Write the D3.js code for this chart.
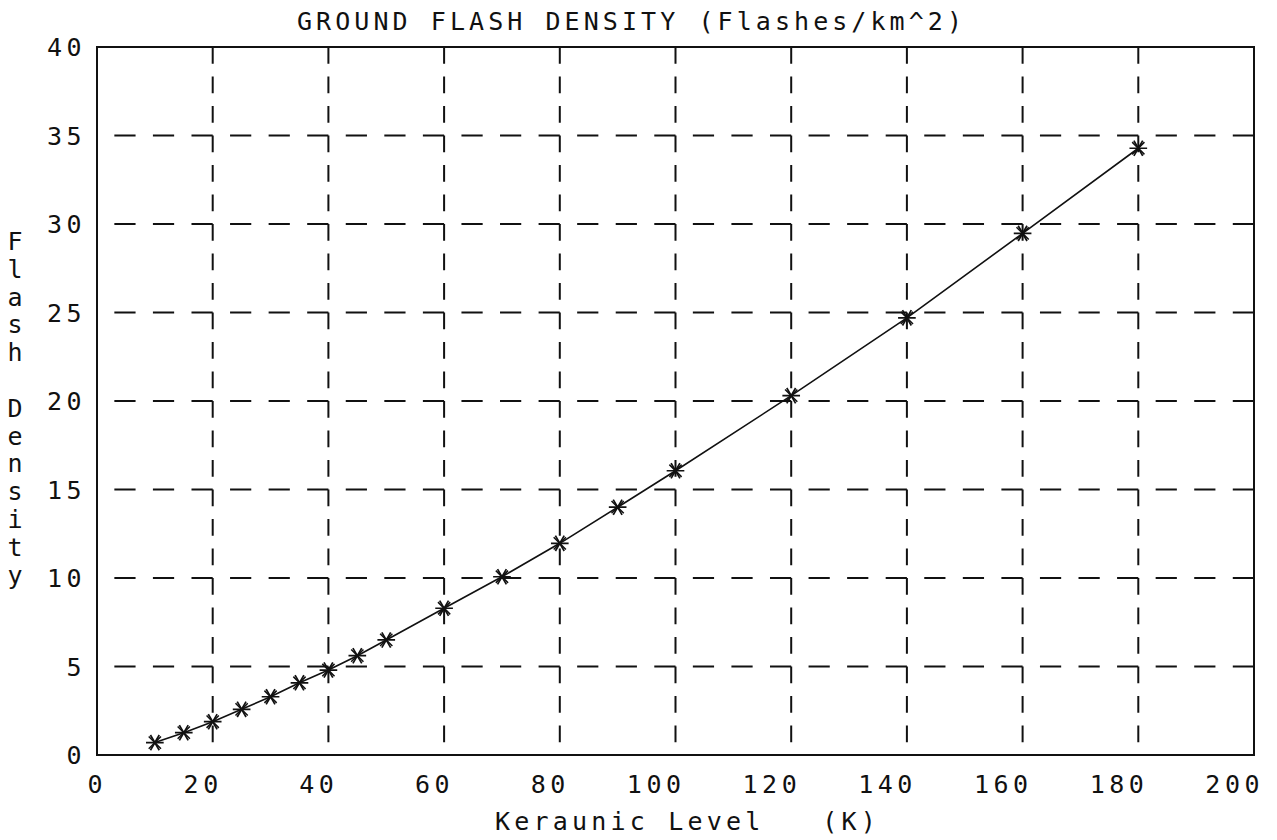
<!DOCTYPE html>
<html>
<head>
<meta charset="utf-8">
<script src="https://cdn.jsdelivr.net/npm/d3@7"></script>
<style>
  body { margin: 0; background: #fff; }
  svg text { font-family: "DejaVu Sans Mono", monospace; fill: #111; }
</style>
</head>
<body>
<svg id="chart" width="1277" height="840"></svg>
<script>
/* data */
var keraunic = [10, 15, 20, 25, 30, 35, 40, 45, 50, 60, 70, 80, 90, 100, 120, 140, 160, 180];
var density  = [0.70, 1.26, 1.88, 2.58, 3.29, 4.08, 4.80, 5.61, 6.50, 8.29, 10.07, 11.96, 14.0, 16.06, 20.3, 24.7, 29.47, 34.28];
var xTicks = [0, 20, 40, 60, 80, 100, 120, 140, 160, 180, 200];
var yTicks = [0, 5, 10, 15, 20, 25, 30, 35, 40];
var titleText = "GROUND FLASH DENSITY (Flashes/km^2)";
var xLegend = "Keraunic Level   (K)";
var yLegend = "Flash Density";

var svg = d3.select("#chart");

var x = d3.scaleLinear().domain([0, 200]).range([97, 1254]);
var y = d3.scaleLinear().domain([0, 40]).range([755, 47]);

var data = keraunic.map(function(k, i) { return {k: k, d: density[i]}; });

/* grid, dashes laid out so each cell holds three */
var hPeriod = (x(20) - x(0)) / 3,
    hDash = hPeriod * 0.55;
svg.append("g").attr("class", "hgrid")
  .selectAll("line")
  .data(yTicks.filter(function(v) { return v > 0 && v < 40; }))
  .enter().append("line")
    .attr("x1", x(0)).attr("x2", x(200))
    .attr("y1", function(d) { return y(d); })
    .attr("y2", function(d) { return y(d); })
    .attr("stroke", "#111")
    .attr("stroke-width", 2)
    .attr("stroke-dasharray", hDash + " " + (hPeriod - hDash))
    .attr("stroke-dashoffset", hDash);

var vPeriod = (y(0) - y(5)) / 3,
    vDash = vPeriod * 0.57;
svg.append("g").attr("class", "vgrid")
  .selectAll("line")
  .data(xTicks.filter(function(v) { return v > 0 && v < 200; }))
  .enter().append("line")
    .attr("x1", function(d) { return x(d); })
    .attr("x2", function(d) { return x(d); })
    .attr("y1", y(40)).attr("y2", y(0))
    .attr("stroke", "#111")
    .attr("stroke-width", 2)
    .attr("stroke-dasharray", vDash + " " + (vPeriod - vDash));

/* frame */
svg.append("rect")
  .attr("x", x(0)).attr("y", y(40))
  .attr("width", x(200) - x(0))
  .attr("height", y(0) - y(40))
  .attr("fill", "none")
  .attr("stroke", "#111")
  .attr("stroke-width", 2);

/* x tick labels (right-aligned just past the grid line) */
svg.append("g").selectAll("text")
  .data(xTicks)
  .enter().append("text")
    .attr("x", function(d) { return x(d) + 10; })
    .attr("y", 793)
    .attr("text-anchor", "end")
    .style("font-size", "25px")
    .style("letter-spacing", "4.5px")
    .text(function(d) { return d; });

/* y tick labels */
svg.append("g").selectAll("text")
  .data(yTicks)
  .enter().append("text")
    .attr("x", 86)
    .attr("y", function(d) { return y(d); })
    .attr("dy", "0.36em")
    .attr("text-anchor", "end")
    .style("font-size", "25px")
    .style("letter-spacing", "4.5px")
    .text(function(d) { return d; });

/* line + asterisk markers */
var line = d3.line()
  .x(function(d) { return x(d.k); })
  .y(function(d) { return y(d.d); });

svg.append("path")
  .datum(data)
  .attr("d", line)
  .attr("fill", "none")
  .attr("stroke", "#111")
  .attr("stroke-width", 1.6);

var star = d3.symbol().type(d3.symbolAsterisk).size(220);
var cross = d3.symbol().type(d3.symbolTimes).size(100);
var marks = svg.append("g").selectAll("g")
  .data(data)
  .enter().append("g")
    .attr("transform", function(d) { return "translate(" + x(d.k) + "," + y(d.d) + ")"; });
marks.append("path")
  .attr("d", star)
  .attr("transform", "rotate(90)")
  .attr("fill", "none").attr("stroke", "#111").attr("stroke-width", 1.7);
marks.append("path")
  .attr("d", cross)
  .attr("fill", "none").attr("stroke", "#111").attr("stroke-width", 1.5);

/* titles */
svg.append("text")
  .attr("x", 297).attr("y", 30)
  .attr("textLength", 665)
  .attr("lengthAdjust", "spacing")
  .style("font-size", "25px")
  .text(titleText);

svg.append("text")
  .attr("x", 495).attr("y", 830)
  .style("font-size", "25px")
  .style("letter-spacing", "4.2px")
  .style("white-space", "pre")
  .attr("xml:space", "preserve")
  .text(xLegend);

/* vertical stacked y legend */
svg.append("g").selectAll("text")
  .data(yLegend.split(""))
  .enter().append("text")
    .attr("x", 15)
    .attr("y", function(d, i) { return 241 + i * 27.8; })
    .attr("dy", "0.36em")
    .attr("text-anchor", "middle")
    .style("font-size", "25px")
    .text(function(d) { return d; });
</script>
</body>
</html>
